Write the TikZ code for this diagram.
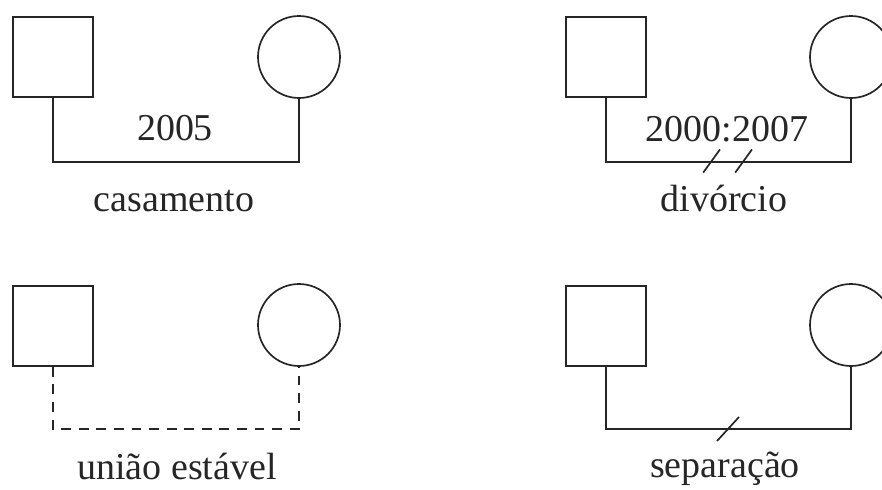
\documentclass[tikz,border=0pt]{standalone}
\usepackage{fontspec}
\setmainfont{Liberation Serif}
\usepackage{tikz}
\usetikzlibrary{positioning}

\tikzset{
    male/.style={draw, rectangle, minimum size=2cm, inner sep=0pt},
    female/.style={draw, circle, minimum size=2.05cm, inner sep=0pt},
    link/.style={line width=1.2pt},
    label/.style={font=\fontsize{27}{30}\selectfont, anchor=base, inner sep=0pt}
}

\begin{document}
\begin{tikzpicture}[line width=1.2pt, color=black!85]

\clip (0,0) rectangle (22.05,12.225);
\fill[white] (0,0) rectangle (22.05,12.225);

% Marriage
\node[male] (m1) at (1.325,10.8) {};
\node[female] (f1) at (7.475,10.8) {};
\draw[link] (m1.south) -- ++(0,-1.6) coordinate (b1) -| (f1.south);
\node[label] (y1) at (4.375,8.72) {2005};
\node[label] (t1) at (4.35,6.93) {casamento};

% Divorce
\node[male] (m2) at (15.15,10.8) {};
\node[female] (f2) at (21.275,10.8) {};
\draw[link] (m2.south) -- ++(0,-1.6) coordinate (b2) -| (f2.south);
\draw[link] (17.58,7.91) -- (18.0,8.49);
\draw[link] (18.38,7.91) -- (18.8,8.49);
\node[label] (y2) at (18.175,8.68) {2000:2007};
\node[label] (t2) at (18.1,6.93) {divórcio};

% Cohabitation
\node[male] (m3) at (1.325,4.075) {};
\node[female] (f3) at (7.475,4.1) {};
\draw[link, dash pattern=on 7pt off 5.5pt] (m3.south) -- ++(0,-1.55) coordinate (b3) -| (f3.south);
\node[label] (t3) at (4.425,0.24) {união estável};

% Separation
\node[male] (m4) at (15.15,4.075) {};
\node[female] (f4) at (21.275,4.1) {};
\draw[link] (m4.south) -- ++(0,-1.55) coordinate (b4) -| (f4.south);
\draw[link] (17.925,1.2) -- (18.475,1.8);
\node[label] (t4) at (18.125,0.3) {separação};

\end{tikzpicture}
\end{document}
